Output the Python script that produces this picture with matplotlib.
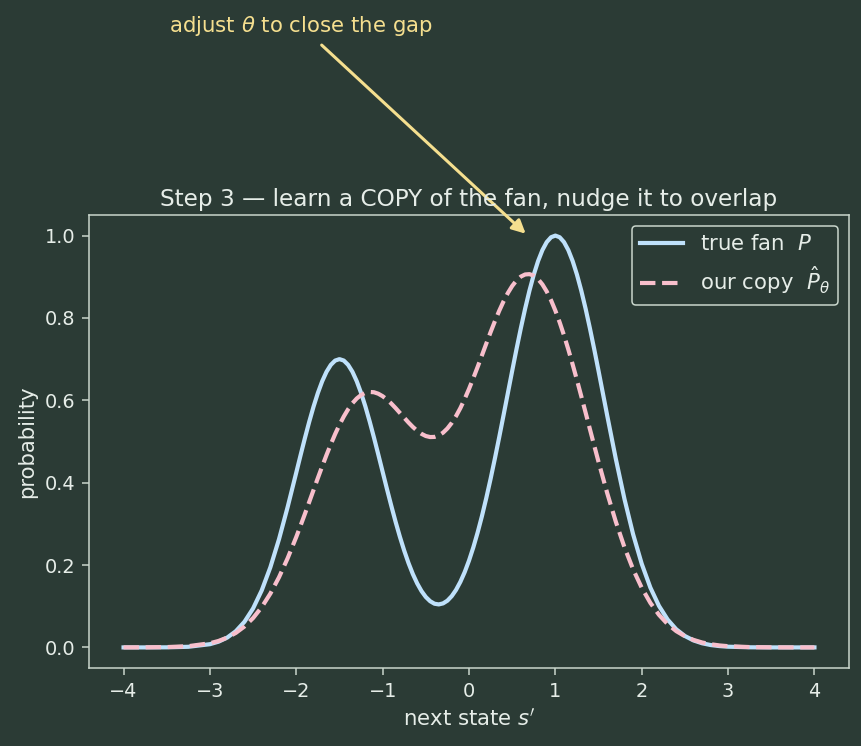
import matplotlib
matplotlib.use("Agg")
import matplotlib.pyplot as plt

# ---- data ----
x_vals = [-4.0, -3.75, -3.5, -3.25,
          -3.0, -2.9, -2.8, -2.7, -2.6, -2.5, -2.4, -2.3, -2.2, -2.1,
          -2.0, -1.95, -1.9, -1.85, -1.8, -1.75, -1.7, -1.65, -1.6, -1.55,
          -1.5, -1.45, -1.4, -1.35, -1.3, -1.25, -1.2, -1.15, -1.1, -1.05,
          -1.0, -0.95, -0.9, -0.85, -0.8, -0.75, -0.7, -0.65, -0.6, -0.55,
          -0.5, -0.45, -0.4, -0.35, -0.3, -0.25, -0.2, -0.15, -0.1, -0.05,
          0.0, 0.05, 0.1, 0.15, 0.2, 0.25, 0.3, 0.35, 0.4, 0.45,
          0.5, 0.55, 0.6, 0.65, 0.7, 0.75, 0.8, 0.85, 0.9, 0.95,
          1.0, 1.05, 1.1, 1.15, 1.2, 1.25, 1.3, 1.35, 1.4, 1.45,
          1.5, 1.6, 1.7, 1.8, 1.9,
          2.0, 2.1, 2.2, 2.3, 2.4, 2.5, 2.6, 2.7, 2.8, 2.9,
          3.0, 3.25, 3.5, 3.75, 4.0]

true_fan = [0.0, 0.0, 0.0002, 0.0015,
            0.0078, 0.0139, 0.0238, 0.0393, 0.0622, 0.0947, 0.1385, 0.1946, 0.2627, 0.3408,
            0.4246, 0.4669, 0.5083, 0.5479, 0.5847, 0.6178, 0.6462, 0.6692, 0.6861, 0.6965,
            0.7000, 0.6966, 0.6862, 0.6694, 0.6464, 0.6181, 0.5852, 0.5485, 0.5092, 0.4681,
            0.4263, 0.3846, 0.3440, 0.3050, 0.2684, 0.2349, 0.2046, 0.1780, 0.1554, 0.1368,
            0.1224, 0.1122, 0.1061, 0.1044, 0.1069, 0.1135, 0.1245, 0.1397, 0.1592, 0.1828,
            0.2108, 0.2429, 0.2791, 0.3190, 0.3626, 0.4093, 0.4589, 0.5106, 0.5638, 0.6176,
            0.6715, 0.7243, 0.7749, 0.8226, 0.8663, 0.9052, 0.9382, 0.9648, 0.9842, 0.9960,
            1.0000, 0.9960, 0.9842, 0.9648, 0.9382, 0.9052, 0.8663, 0.8226, 0.7748, 0.7241,
            0.6713, 0.5633, 0.4578, 0.3604, 0.2749,
            0.2030, 0.1453, 0.1007, 0.0676, 0.0439, 0.0277, 0.0169, 0.0100, 0.0057, 0.0032,
            0.0017, 0.0003, 0.0, 0.0, 0.0]

our_copy = [0.0, 0.0002, 0.0008, 0.0030,
            0.0101, 0.0157, 0.0238, 0.0352, 0.0508, 0.0713, 0.0978, 0.1307, 0.1703, 0.2165,
            0.2682, 0.2959, 0.3242, 0.3532, 0.3822, 0.4113, 0.4397, 0.4672, 0.4934, 0.5180,
            0.5405, 0.5607, 0.5782, 0.5928, 0.6044, 0.6128, 0.6182, 0.6203, 0.6196, 0.6160,
            0.6100, 0.6020, 0.5922, 0.5812, 0.5694, 0.5576, 0.5460, 0.5353, 0.5260, 0.5186,
            0.5133, 0.5108, 0.5111, 0.5147, 0.5215, 0.5317, 0.5451, 0.5617, 0.5811, 0.6033,
            0.6276, 0.6538, 0.6811, 0.7093, 0.7376, 0.7655, 0.7922, 0.8174, 0.8403, 0.8606,
            0.8776, 0.8911, 0.9004, 0.9056, 0.9064, 0.9026, 0.8942, 0.8814, 0.8642, 0.8430,
            0.8178, 0.7893, 0.7578, 0.7236, 0.6872, 0.6492, 0.6100, 0.5702, 0.5299, 0.4900,
            0.4505, 0.3749, 0.3052, 0.2432, 0.1897,
            0.1448, 0.1081, 0.0790, 0.0565, 0.0395, 0.0271, 0.0182, 0.0119, 0.0077, 0.0048,
            0.0030, 0.0008, 0.0002, 0.0, 0.0]

series_labels = ["true fan  $P$", "our copy  $\\hat{P}_\\theta$"]
title_text = "Step 3 \u2014 learn a COPY of the fan, nudge it to overlap"
xlabel_text = "next state $s'$"
ylabel_text = "probability"
note_text = "adjust $\\theta$ to close the gap"

# ---- style ----
BG = "#2b3b35"
FG = "#e6ede8"
SPINE = "#c9d6cc"
BLUE = "#bfe1fb"
PINK = "#f8bfcc"
NOTE = "#f5df8f"

plt.rcParams["font.family"] = ["DejaVu Sans"]
plt.rcParams["mathtext.fontset"] = "dejavusans"

fig = plt.figure(figsize=(8.62, 7.46), dpi=100, facecolor=BG)
ax = fig.add_axes([89 / 862, 1 - 668 / 746, 760 / 862, 453 / 746], facecolor=BG)

ax.plot(x_vals, true_fan, color=BLUE, lw=3.0, label=series_labels[0])
ax.plot(x_vals, our_copy, color=PINK, lw=3.0, ls="--", label=series_labels[1])

ax.set_xlim(-4.4, 4.4)
ax.set_ylim(-0.05, 1.05)
ax.set_xticks([-4, -3, -2, -1, 0, 1, 2, 3, 4])
ax.set_yticks([0.0, 0.2, 0.4, 0.6, 0.8, 1.0])

for s in ax.spines.values():
    s.set_color(SPINE)
    s.set_linewidth(1.1)
ax.tick_params(colors=SPINE, labelcolor=FG, labelsize=13.9, length=4.9, width=1.1, pad=4.9)

ax.set_title(title_text, color=FG, fontsize=16.7, pad=6.5)
ax.set_xlabel(xlabel_text, color=FG, fontsize=15.3, labelpad=5.6)
ax.set_ylabel(ylabel_text, color=FG, fontsize=15.3, labelpad=5.6)

leg = ax.legend(loc="upper right", fontsize=15.3, facecolor=BG, edgecolor=SPINE,
                framealpha=1.0, labelcolor=FG)
leg.get_frame().set_linewidth(1.1)

ax.annotate(note_text, xy=(0.68, 1.0), xytext=(-1.95, 1.51),
            textcoords="data", ha="center", va="center", color=NOTE, fontsize=15.3,
            annotation_clip=False,
            arrowprops=dict(arrowstyle="-|>", color=NOTE, lw=2.2,
                            mutation_scale=20, shrinkA=5, shrinkB=2))

fig.savefig("out.png", dpi=100, facecolor=BG)
